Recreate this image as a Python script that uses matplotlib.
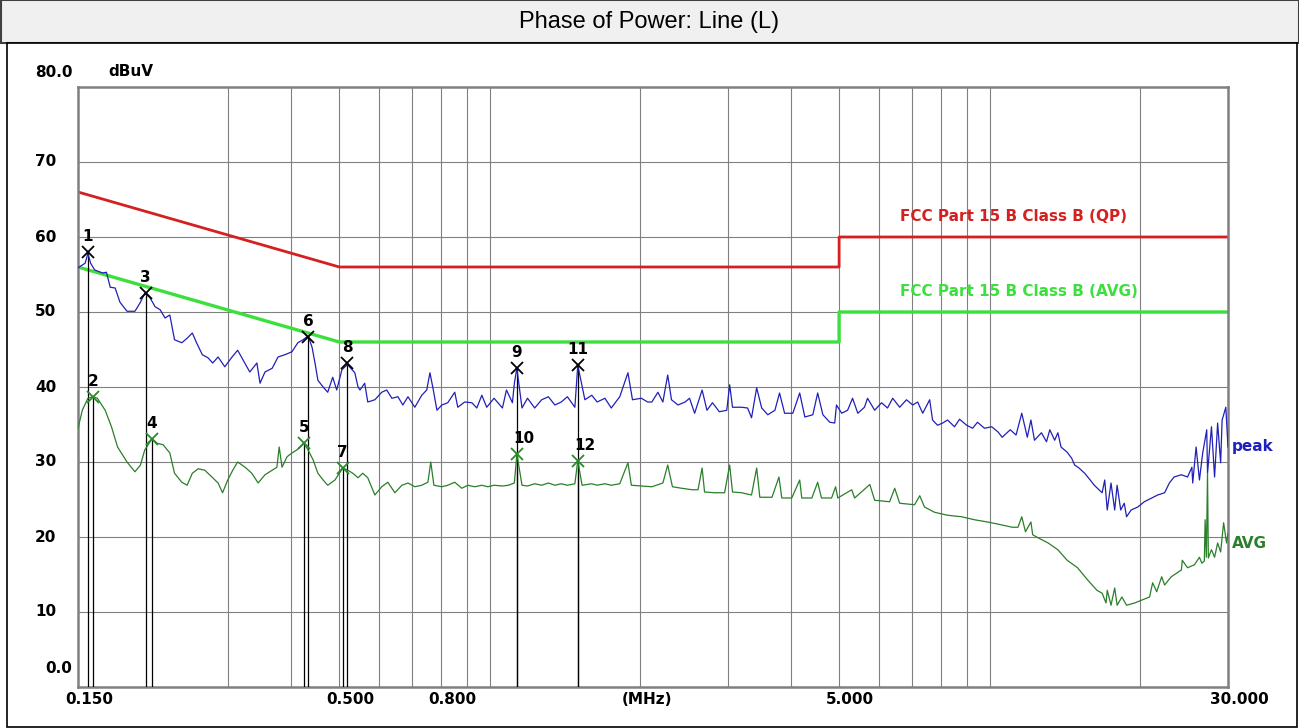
import matplotlib
matplotlib.use("Agg")
import matplotlib.pyplot as plt
import matplotlib.transforms as mtransforms
from matplotlib.patches import Rectangle
from matplotlib.ticker import NullLocator

# ---- data ----
peak_mhz = [0.150, 0.155, 0.157, 0.159, 0.162, 0.168, 0.171, 0.174, 0.178, 0.182,
            0.188, 0.195, 0.200, 0.204, 0.209, 0.214, 0.219, 0.224, 0.229, 0.234,
            0.242, 0.248, 0.254, 0.259, 0.266, 0.273, 0.279, 0.286, 0.295, 0.305,
            0.313, 0.321, 0.331, 0.342, 0.347, 0.355, 0.367, 0.377, 0.389, 0.402,
            0.413, 0.423, 0.433, 0.441, 0.447, 0.453, 0.464, 0.474, 0.485, 0.494,
            0.506, 0.519, 0.537, 0.545, 0.550, 0.562, 0.570, 0.589, 0.608, 0.622,
            0.637, 0.655, 0.670, 0.686, 0.708, 0.731, 0.748, 0.759, 0.769, 0.784,
            0.802, 0.824, 0.851, 0.863, 0.891, 0.921, 0.942, 0.964, 0.986, 1.02,
            1.06, 1.08, 1.11, 1.12, 1.133, 1.16, 1.19, 1.23, 1.27, 1.31,
            1.35, 1.39, 1.43, 1.48, 1.50, 1.55, 1.60, 1.64, 1.70, 1.75,
            1.82, 1.89, 1.93, 2.01, 2.07, 2.11, 2.17, 2.22, 2.27, 2.31,
            2.38, 2.46, 2.51, 2.57, 2.66, 2.72, 2.79, 2.88, 2.98, 3.02,
            3.06, 3.19, 3.28, 3.34, 3.42, 3.50, 3.60, 3.72, 3.80, 3.89,
            4.04, 4.17, 4.27, 4.43, 4.53, 4.64, 4.79, 4.90, 4.94, 5.06,
            5.20, 5.32, 5.45, 5.62, 5.70, 5.89, 6.08, 6.25, 6.40, 6.61,
            6.82, 7.02, 7.18, 7.35, 7.59, 7.69, 7.87, 8.06, 8.24, 8.51,
            8.71, 9.00, 9.25, 9.46, 9.77, 10.1, 10.4, 10.6, 11.0, 11.3,
            11.6, 11.9, 12.1, 12.3, 12.7, 13.0, 13.2, 13.5, 13.7, 13.9,
            14.3, 14.6, 14.8, 15.1, 15.5, 15.9, 16.2, 16.8, 17.0, 17.2,
            17.5, 17.8, 18.0, 18.3, 18.6, 18.8, 19.2, 19.8, 20.4, 21.1,
            21.7, 22.4, 22.9, 23.4, 24.2, 24.9, 25.4, 25.5, 25.9, 26.3,
            26.7, 27.2, 27.3, 27.8, 28.2, 28.6, 29.0, 29.2, 29.7, 30.0]
peak_dbuv = [55.9, 56.5, 57.8, 56.5, 55.6, 55.2, 55.3, 53.3, 53.2, 51.3,
             50.1, 50.1, 51.3, 52.5, 51.9, 50.7, 50.3, 49.2, 49.6, 46.3,
             45.9, 46.5, 47.2, 45.9, 44.3, 43.9, 43.2, 44.0, 42.7, 44.0,
             44.9, 43.6, 42.0, 43.2, 40.5, 42.0, 42.5, 44.0, 44.3, 44.7,
             45.9, 46.3, 46.8, 45.3, 43.2, 40.9, 40.0, 39.3, 41.3, 39.6,
             42.3, 43.0, 41.9, 40.0, 39.6, 40.5, 38.0, 38.3, 39.3, 39.6,
             38.5, 38.7, 37.6, 38.7, 37.3, 38.9, 39.6, 41.9, 40.0, 36.9,
             37.6, 37.9, 39.3, 37.3, 38.0, 37.9, 37.2, 38.9, 37.3, 38.5,
             37.2, 39.6, 37.9, 40.5, 42.5, 37.2, 38.5, 37.2, 38.3, 38.7,
             37.6, 38.0, 38.7, 37.3, 42.9, 38.3, 38.9, 38.0, 38.5, 37.2,
             38.7, 41.9, 38.3, 38.5, 38.0, 38.0, 39.3, 38.0, 41.6, 38.3,
             37.6, 38.0, 38.5, 36.5, 39.6, 36.9, 37.9, 36.7, 36.9, 40.3,
             37.3, 37.3, 37.2, 35.9, 39.9, 37.2, 36.3, 36.9, 39.2, 36.5,
             36.5, 39.2, 36.0, 36.3, 39.2, 36.3, 35.3, 35.2, 37.6, 36.5,
             36.9, 38.5, 36.5, 37.3, 38.5, 36.9, 37.9, 37.2, 38.5, 37.3,
             38.3, 37.6, 38.0, 36.5, 38.3, 35.6, 34.9, 35.2, 35.6, 34.7,
             35.7, 34.9, 34.5, 35.3, 34.5, 34.7, 34.0, 33.3, 34.3, 33.6,
             36.5, 33.3, 35.6, 32.9, 33.9, 32.7, 34.3, 32.9, 33.9, 32.0,
             31.3, 30.5, 29.6, 29.2, 28.5, 27.6, 26.9, 25.9, 27.6, 23.6,
             27.2, 23.6, 26.9, 23.6, 24.5, 22.7, 23.6, 24.0, 24.7, 25.2,
             25.6, 25.9, 27.2, 28.0, 28.3, 28.0, 29.3, 27.2, 32.0, 27.6,
             31.2, 34.3, 28.5, 34.7, 28.0, 35.2, 29.9, 35.6, 37.3, 32.0]

avg_mhz = [0.150, 0.153, 0.157, 0.161, 0.164, 0.170, 0.175, 0.180, 0.188, 0.195,
           0.200, 0.204, 0.211, 0.216, 0.222, 0.229, 0.234, 0.242, 0.248, 0.254,
           0.261, 0.269, 0.278, 0.286, 0.292, 0.299, 0.306, 0.313, 0.324, 0.334,
           0.344, 0.355, 0.367, 0.375, 0.379, 0.384, 0.393, 0.402, 0.411, 0.425,
           0.433, 0.443, 0.453, 0.464, 0.474, 0.490, 0.508, 0.520, 0.532, 0.545,
           0.557, 0.570, 0.589, 0.608, 0.625, 0.646, 0.667, 0.686, 0.708, 0.731,
           0.752, 0.762, 0.773, 0.802, 0.824, 0.851, 0.879, 0.904, 0.933, 0.964,
           0.991, 1.02, 1.06, 1.09, 1.12, 1.133, 1.16, 1.19, 1.23, 1.27,
           1.31, 1.35, 1.39, 1.43, 1.48, 1.50, 1.53, 1.60, 1.64, 1.70,
           1.75, 1.82, 1.89, 1.92, 2.01, 2.11, 2.22, 2.27, 2.32, 2.42,
           2.54, 2.61, 2.66, 2.69, 2.82, 2.95, 3.02, 3.06, 3.19, 3.34,
           3.42, 3.47, 3.67, 3.79, 3.84, 4.02, 4.17, 4.21, 4.41, 4.53,
           4.61, 4.83, 4.92, 4.97, 5.30, 5.37, 5.76, 5.89, 6.31, 6.46,
           6.61, 7.08, 7.25, 7.41, 7.76, 8.24, 8.79, 9.33, 9.91, 10.6,
           11.1, 11.4, 11.6, 11.8, 12.1, 12.2, 12.5, 13.1, 13.7, 14.3,
           15.0, 15.7, 16.4, 16.8, 17.1, 17.2, 17.5, 17.8, 18.0, 18.4,
           18.8, 19.5, 20.2, 20.9, 21.2, 21.6, 22.1, 22.4, 23.1, 24.2,
           24.3, 24.9, 25.7, 26.3, 26.6, 26.9, 27.0, 27.15, 27.3, 27.4,
           27.8, 28.2, 28.6, 29.0, 29.4, 29.8, 30.0]
avg_dbuv = [34.5, 36.9, 38.5, 38.7, 38.5, 36.9, 34.7, 32.0, 30.0, 28.7,
            29.6, 31.6, 33.1, 32.5, 32.3, 31.2, 28.5, 27.3, 26.9, 28.5,
            29.1, 28.9, 28.0, 27.2, 25.9, 27.6, 28.9, 30.0, 29.3, 28.5,
            27.2, 28.3, 28.9, 29.3, 32.0, 29.3, 30.7, 31.2, 31.6, 32.5,
            31.6, 30.3, 28.5, 27.6, 26.9, 27.6, 29.2, 28.9, 28.5, 27.9,
            28.5, 27.9, 25.6, 26.7, 27.3, 25.9, 26.9, 27.2, 26.7, 26.9,
            27.3, 30.0, 26.9, 26.7, 26.9, 27.3, 26.5, 26.9, 26.7, 26.9,
            26.7, 26.9, 26.8, 26.9, 27.2, 31.1, 26.9, 26.8, 27.1, 26.9,
            27.2, 26.9, 27.1, 26.9, 27.1, 30.2, 26.9, 27.1, 26.9, 27.1,
            26.9, 27.1, 29.9, 26.9, 26.8, 26.7, 27.2, 29.6, 26.7, 26.5,
            26.3, 26.3, 29.2, 26.0, 25.9, 25.9, 29.6, 26.0, 25.9, 25.6,
            29.2, 25.3, 25.3, 28.0, 25.2, 25.2, 27.6, 25.2, 25.2, 27.3,
            25.2, 25.2, 26.7, 25.2, 26.3, 25.2, 27.0, 24.9, 24.7, 26.5,
            24.5, 24.3, 25.5, 24.0, 23.3, 22.9, 22.7, 22.3, 22.0, 21.6,
            21.3, 21.3, 22.7, 20.7, 22.0, 20.3, 19.9, 19.2, 18.3, 16.9,
            15.9, 14.3, 12.9, 12.5, 11.2, 12.9, 10.9, 13.2, 10.9, 12.0,
            10.9, 11.2, 11.6, 12.0, 13.9, 12.7, 14.7, 13.6, 14.7, 15.6,
            16.9, 15.9, 16.3, 17.3, 16.5, 16.8, 22.3, 17.3, 28.5, 17.2,
            18.3, 17.3, 19.2, 18.0, 21.9, 19.2, 20.5]

# FCC Part 15 B Class B limits
qp_limit_mhz = [0.15, 0.5, 5.0, 5.0, 30.0]
qp_limit_dbuv = [66, 56, 56, 60, 60]
avg_limit_mhz = [0.15, 0.5, 5.0, 5.0, 30.0]
avg_limit_dbuv = [56, 46, 46, 50, 50]

# measurement markers
marker_no = [1, 2, 3, 4, 5, 6, 7, 8, 9, 10, 11, 12]
marker_mhz = [0.157, 0.161, 0.205, 0.211, 0.425, 0.433, 0.508, 0.519, 1.133, 1.133, 1.50, 1.50]
marker_dbuv = [58.0, 38.7, 52.5, 33.1, 32.5, 46.7, 29.2, 43.2, 42.5, 31.1, 42.9, 30.2]
marker_trace = ['peak', 'avg', 'peak', 'avg', 'avg', 'peak', 'avg', 'peak', 'peak', 'avg', 'peak', 'avg']

grid_mhz = [0.3, 0.4, 0.5, 0.6, 0.7, 0.8, 0.9, 1.0, 2, 3, 4, 5, 6, 7, 8, 9, 10, 20]
grid_dbuv = [10, 20, 30, 40, 50, 60, 70]
ytick_dbuv = [81.9, 70, 60, 50, 40, 30, 20, 10, 2.5]
ytick_text = ['80.0', '70', '60', '50', '40', '30', '20', '10', '0.0']
xtick_mhz = [0.15, 0.5, 0.8, 1.96, 5.0, 30.0]
xtick_text = ['0.150', '0.500', '0.800', '(MHz)', '5.000', '30.000']

W, H = 1299, 728
fig = plt.figure(figsize=(W / 100, H / 100), dpi=100)
fig.patch.set_facecolor('white')

def fx(px):
    return px / W

def fy(py):
    return 1 - py / H

# frames (kept behind the axes)
fig.add_artist(Rectangle((fx(0.5), fy(43)), fx(1298), 42.5 / H, transform=fig.transFigure,
                         facecolor='#f0f0f0', edgecolor='#404040', lw=1.5, zorder=-5))
fig.add_artist(Rectangle((fx(7), fy(727)), fx(1290), 684 / H, transform=fig.transFigure,
                         facecolor='white', edgecolor='black', lw=1.2, zorder=-5))
fig.text(0.5, fy(22), 'Phase of Power: Line (L)', ha='center', va='center',
         fontsize=17, family='Liberation Sans', color='black')

ax = fig.add_axes([fx(78), fy(687), fx(1150), 600 / H])
ax.set_xscale('log')
ax.set_xlim(0.15, 30)
ax.set_ylim(0, 80)
ax.patch.set_alpha(0)
ax.xaxis.set_major_locator(NullLocator())
ax.xaxis.set_minor_locator(NullLocator())
ax.yaxis.set_major_locator(NullLocator())
for s in ax.spines.values():
    s.set_color('#808080')
    s.set_linewidth(1.8)

for f in grid_mhz:
    ax.axvline(f, color='#808080', lw=0.8, zorder=1)
for v in grid_dbuv:
    ax.axhline(v, color='#808080', lw=0.8, zorder=1)

fs = 11

# limit lines
ax.plot(qp_limit_mhz, qp_limit_dbuv, color='#d42020', lw=2.0, zorder=2)
ax.plot(avg_limit_mhz, avg_limit_dbuv, color='#3ce03c', lw=2.4, zorder=2)
ax.text(6.61, 62.7, 'FCC Part 15 B Class B (QP)', color='#d42020', fontsize=fs,
        fontweight='bold', va='center', ha='left')
ax.text(6.61, 52.7, 'FCC Part 15 B Class B (AVG)', color='#3ce03c', fontsize=fs,
        fontweight='bold', va='center', ha='left')

# marker drop lines
ax.vlines(marker_mhz, 0, marker_dbuv, color='black', lw=0.9, zorder=3)

# traces
ax.plot(peak_mhz, peak_dbuv, color='#2020b8', lw=0.9, zorder=4)
ax.plot(avg_mhz, avg_dbuv, color='#2a7f2a', lw=0.9, zorder=4)

# markers and their numbers
for n, f, v, t in zip(marker_no, marker_mhz, marker_dbuv, marker_trace):
    c = 'black' if t == 'peak' else '#2a8a2a'
    ax.plot([f], [v], marker='x', ms=8, mew=1.3, color=c, zorder=5)
    dx = 5 if n in (10, 12) else 0
    ax.annotate(str(n), (f, v), xytext=(dx, 11), textcoords='offset points',
                ha='center', va='center', fontsize=fs, fontweight='bold', zorder=6)

side = mtransforms.blended_transform_factory(ax.transAxes, ax.transData)
ax.text(1.0035, 32.1, 'peak', transform=side, color='#2020c0', fontsize=fs,
        fontweight='bold', va='center', ha='left', clip_on=False)
ax.text(1.0035, 19.2, 'AVG', transform=side, color='#2a7f2a', fontsize=fs,
        fontweight='bold', va='center', ha='left', clip_on=False)

# axis labels as placed text
ylab = mtransforms.blended_transform_factory(fig.transFigure, ax.transData)
for v, t in zip(ytick_dbuv, ytick_text):
    x0 = 45 if t == '0.0' else 35
    ax.text(fx(x0), v, t, transform=ylab, ha='left', va='center', fontsize=fs,
            fontweight='bold', clip_on=False)
ax.text(fx(108), 82.0, 'dBuV', transform=ylab, ha='left', va='center', fontsize=fs,
        fontweight='bold', clip_on=False)

xlab = mtransforms.blended_transform_factory(ax.transData, fig.transFigure)
for f, t in zip(xtick_mhz, xtick_text):
    ax.annotate(t, (f, fy(699)), xycoords=xlab, xytext=(8, 0), textcoords='offset points',
                ha='center', va='center', fontsize=fs, fontweight='bold', annotation_clip=False)

fig.savefig('out.png', dpi=100)
